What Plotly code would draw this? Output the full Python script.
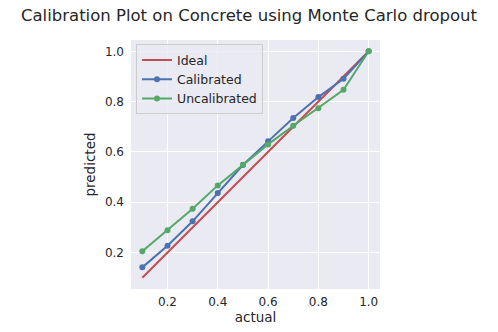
import plotly.graph_objects as go

actual = [0.1, 0.2, 0.3, 0.4, 0.5, 0.6, 0.7, 0.8, 0.9, 1.0]
ideal = [0.1, 0.2, 0.3, 0.4, 0.5, 0.6, 0.7, 0.8, 0.9, 1.0]
calibrated = [0.141, 0.227, 0.324, 0.437, 0.548, 0.642, 0.735, 0.818, 0.891, 1.0]
uncalibrated = [0.205, 0.289, 0.374, 0.467, 0.549, 0.630, 0.704, 0.774, 0.847, 1.0]
tick_vals = [0.2, 0.4, 0.6, 0.8, 1.0]
tick_text = ["0.2", "0.4", "0.6", "0.8", "1.0"]

RED = "#C44E52"
BLUE = "#4C72B0"
GREEN = "#55A868"
FONT = "DejaVu Sans"
TXT = "#262626"

fig = go.Figure()
fig.add_trace(go.Scatter(x=actual, y=ideal, mode="lines", name="Ideal",
                         line=dict(color=RED, width=2)))
fig.add_trace(go.Scatter(x=actual, y=calibrated, mode="lines+markers", name="Calibrated",
                         line=dict(color=BLUE, width=2), marker=dict(size=6, color=BLUE)))
fig.add_trace(go.Scatter(x=actual, y=uncalibrated, mode="lines+markers", name="Uncalibrated",
                         line=dict(color=GREEN, width=2), marker=dict(size=6, color=GREEN)))

axis_common = dict(
    range=[0.055, 1.045], tickvals=tick_vals, ticktext=tick_text,
    showgrid=True, gridcolor="white", gridwidth=1.2, zeroline=False,
    showline=False, ticks="", automargin=False,
    tickfont=dict(family=FONT, size=12, color=TXT),
)

fig.update_layout(
    width=498, height=332,
    margin=dict(l=131, r=118, t=40, b=43, autoexpand=False),
    paper_bgcolor="white", plot_bgcolor="#EAEAF2",
    font=dict(family=FONT, color=TXT),
    title=dict(text="Calibration Plot on Concrete using Monte Carlo dropout",
               x=0.5, xref="container", xanchor="center",
               y=0.955, yref="container", yanchor="middle",
               font=dict(family=FONT, size=16.5, color=TXT)),
    xaxis=dict(**axis_common, ticklabelstandoff=4,
               title=dict(text="actual", font=dict(family=FONT, size=13.5, color=TXT), standoff=4)),
    yaxis=dict(**axis_common, ticklabelstandoff=6,
               title=dict(text="predicted", font=dict(family=FONT, size=13.5, color=TXT), standoff=6)),
    legend=dict(x=0.02, y=0.982, xanchor="left", yanchor="top",
                bgcolor="rgba(234,234,242,0.8)", bordercolor="#cccccc", borderwidth=1,
                font=dict(family=FONT, size=12.5, color=TXT), tracegroupgap=0,
                itemwidth=30),
    showlegend=True,
)

fig.write_html("out.html", config={"displayModeBar": False},
               post_script="document.body.style.margin='0';document.body.style.overflow='hidden';")
